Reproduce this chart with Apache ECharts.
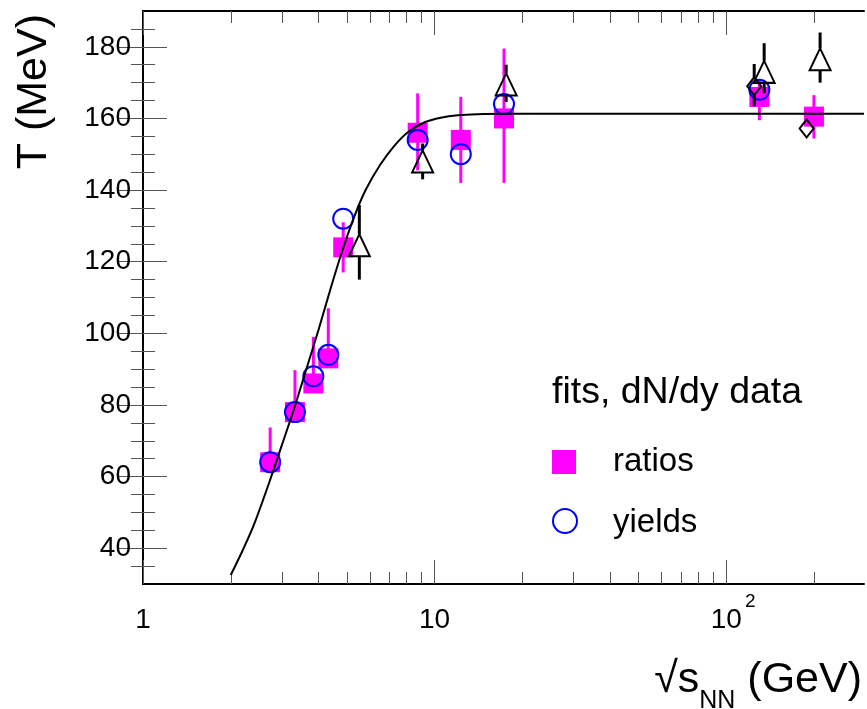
<!DOCTYPE html>
<html>
<head>
<meta charset="utf-8">
<script src="https://cdn.jsdelivr.net/npm/echarts@6/dist/echarts.min.js"></script>
<style>
  html, body { margin: 0; padding: 0; background: #fff; }
  #chart { width: 867px; height: 709px; }
</style>
</head>
<body>
<div id="chart"></div>
<script>
// thermal fits to dN/dy data: T (MeV) vs sqrt(s_NN) (GeV)
const ratioX = [2.73, 3.32, 3.84, 4.32, 4.86, 8.75, 12.3, 17.3, 130, 200];
const ratioT = [64, 78, 86, 93, 124, 156, 154, 160, 166, 160.5];
const ratioLo = [62, 76, 84, 91, 117, 145.5, 142, 142, 159.5, 154.4];
const ratioHi = [73.7, 89.7, 99, 107, 131, 167, 166, 179.5, 171, 166.5];

const yieldX = [2.73, 3.32, 3.84, 4.32, 4.86, 8.75, 12.3, 17.3, 130];
const yieldT = [64, 78, 88, 94, 132, 154, 150, 164, 168];

const triX = [5.52, 9.1, 17.6, 135, 210];
const triT = [124.6, 148, 169.5, 173, 176.5];
const triLo = [115, 143, 164.6, 167, 170];
const triHi = [135.8, 153, 175, 181, 184];

const diaX = [124.8, 188.8];
const diaT = [169, 157.2];
const diaLo = [163.4, 157.2];
const diaHi = [175.2, 157.2];

// parametrised T(sqrt s) curve
const fitX = [2.0, 2.2, 2.4, 2.7, 3.0, 3.3, 3.6, 4.0, 4.4, 4.8, 5.3, 5.8, 6.5, 7.3, 8.2, 9.3, 10.5, 12, 14, 18, 297];
const fitT = [32.5, 39.5, 46.5, 58, 69, 79, 89, 101, 112.5, 122.5, 132.5, 140, 147, 152.5, 156.5, 159, 160.2, 160.9, 161.2, 161.3, 161.3];

const xMin = 1;
const xMax = 297;
const yMin = 30;
const yMax = 190;
const xMajor = [1, 10, 100];
const xMinor = [2, 3, 4, 5, 6, 7, 8, 9, 20, 30, 40, 50, 60, 70, 80, 90, 200];
const yMajor = [40, 60, 80, 100, 120, 140, 160, 180];
const yMinor = [35, 45, 50, 55, 65, 70, 75, 85, 90, 95, 105, 110, 115, 125, 130, 135,
  145, 150, 155, 165, 170, 175, 185];

const FONT = "Liberation Sans, Arial, sans-serif";
const TICK_COLOR = "#555";
const logMax = Math.log10(xMax);

const chart = echarts.init(document.getElementById("chart"), null, { renderer: "canvas" });

function frameXAxis(position) {
  return {
    type: "log",
    position: position,
    min: xMin,
    max: xMax,
    axisLine: { show: true, lineStyle: { color: "#000", width: 2 } },
    axisTick: { show: false },
    axisLabel: { show: false },
    splitLine: { show: false },
    minorTick: { show: false },
  };
}

function tickXAxis(position, values, length, withLabels) {
  return {
    type: "value",
    position: position,
    min: 0,
    max: logMax,
    axisLine: { show: false },
    axisTick: {
      show: true,
      inside: true,
      length: length,
      customValues: values.map((v) => Math.log10(v)),
      lineStyle: { color: TICK_COLOR, width: 1 },
    },
    axisLabel: withLabels
      ? {
          show: true,
          customValues: values.map((v) => Math.log10(v)),
          margin: 8,
          color: "#000",
          fontFamily: FONT,
          formatter: (v) => {
            const p = Math.round(v);
            if (p === 0) return "{a|1}";
            if (p === 1) return "{a|10}";
            return "{b|10}{s|" + p + "}";
          },
          rich: {
            a: { fontSize: 28, fontFamily: FONT, lineHeight: 28, padding: [14, 0, 0, 0], verticalAlign: "top" },
            b: { fontSize: 28, fontFamily: FONT, lineHeight: 28, padding: [14, 0, 0, 14], verticalAlign: "top" },
            s: { fontSize: 19, fontFamily: FONT, lineHeight: 19, padding: [0, 0, 0, 3], verticalAlign: "top" },
          },
        }
      : { show: false },
    splitLine: { show: false },
  };
}

function tickYAxis(position, values, length, withLabels, withLine) {
  return {
    type: "value",
    position: position,
    min: yMin,
    max: yMax,
    axisLine: { show: withLine, lineStyle: { color: "#000", width: 2 } },
    axisTick: {
      show: true,
      inside: true,
      length: length,
      customValues: values,
      lineStyle: { color: TICK_COLOR, width: 1 },
    },
    axisLabel: withLabels
      ? {
          show: true,
          customValues: values,
          margin: 12,
          fontSize: 28,
          fontFamily: FONT,
          color: "#000",
        }
      : { show: false },
    splitLine: { show: false },
  };
}

// vertical error bars, with a hole where an open marker sits
function errorBars(xs, ts, lo, hi, color, gap, z) {
  return {
    type: "custom",
    xAxisIndex: 0,
    yAxisIndex: 0,
    z: z,
    silent: true,
    data: xs.map((x, i) => [x, ts[i], lo[i], hi[i]]),
    encode: { x: 0, y: [1, 2, 3] },
    renderItem: (params, api) => {
      const mid = api.coord([api.value(0), api.value(1)]);
      const low = api.coord([api.value(0), api.value(2)]);
      const high = api.coord([api.value(0), api.value(3)]);
      const style = { stroke: color, lineWidth: 3 };
      const children = [];
      if (mid[1] - gap > high[1]) {
        children.push({ type: "line", shape: { x1: mid[0], y1: high[1], x2: mid[0], y2: mid[1] - gap }, style: style });
      }
      if (low[1] > mid[1] + gap) {
        children.push({ type: "line", shape: { x1: mid[0], y1: mid[1] + gap, x2: mid[0], y2: low[1] }, style: style });
      }
      return { type: "group", children: children };
    },
  };
}

const option = {
  animation: false,
  backgroundColor: "#fff",
  grid: { left: 143, top: 11, width: 721, height: 573, containLabel: false },
  xAxis: [
    frameXAxis("bottom"),
    tickXAxis("bottom", xMajor, 24, true),
    tickXAxis("bottom", xMinor, 12, false),
    frameXAxis("top"),
    tickXAxis("top", xMajor, 24, false),
    tickXAxis("top", xMinor, 12, false),
  ],
  yAxis: [
    tickYAxis("left", yMajor, 24, true, true),
    tickYAxis("left", yMinor, 12, false, false),
    tickYAxis("right", yMajor, 24, false, true),
    tickYAxis("right", yMinor, 12, false, false),
  ],
  series: [
    errorBars(ratioX, ratioT, ratioLo, ratioHi, "#ff00ff", 0, 2),
    {
      name: "ratios",
      type: "scatter",
      z: 3,
      data: ratioX.map((x, i) => [x, ratioT[i]]),
      symbol: "rect",
      symbolSize: 20,
      itemStyle: { color: "#ff00ff", opacity: 1 },
      emphasis: { disabled: true },
    },
    {
      name: "yields",
      type: "scatter",
      z: 4,
      data: yieldX.map((x, i) => [x, yieldT[i]]),
      symbol: "circle",
      symbolSize: 20,
      itemStyle: { color: "rgba(0,0,0,0)", borderColor: "#0000ff", borderWidth: 2, opacity: 1 },
      emphasis: { disabled: true },
    },
    errorBars(triX, triT, triLo, triHi, "#000", 11, 5),
    {
      type: "scatter",
      z: 5,
      data: triX.map((x, i) => [x, triT[i]]),
      symbol: "triangle",
      symbolSize: [21, 22],
      itemStyle: { color: "rgba(0,0,0,0)", borderColor: "#000", borderWidth: 2, opacity: 1 },
      emphasis: { disabled: true },
    },
    errorBars(diaX, diaT, diaLo, diaHi, "#000", 9, 5),
    {
      type: "scatter",
      z: 5,
      data: diaX.map((x, i) => [x, diaT[i]]),
      symbol: "diamond",
      symbolSize: [14, 18],
      itemStyle: { color: "rgba(0,0,0,0)", borderColor: "#000", borderWidth: 2, opacity: 1 },
      emphasis: { disabled: true },
    },
    {
      type: "line",
      z: 6,
      data: fitX.map((x, i) => [x, fitT[i]]),
      showSymbol: false,
      smooth: 0.3,
      lineStyle: { color: "#000", width: 2 },
      emphasis: { disabled: true },
    },
  ],
  graphic: [
    {
      type: "text",
      x: 34,
      y: 14,
      rotation: Math.PI / 2,
      style: { text: "T (MeV)", fontSize: 43, fontFamily: FONT, fill: "#000", align: "right", verticalAlign: "middle" },
    },
    {
      type: "text",
      x: 862,
      y: 659,
      style: {
        text: "{r|\u221As}{sub|NN}{r| (GeV)}",
        align: "right",
        verticalAlign: "top",
        fill: "#000",
        rich: {
          r: { fontSize: 43, fontFamily: FONT, lineHeight: 48, verticalAlign: "top", fill: "#000" },
          sub: { fontSize: 25, fontFamily: FONT, lineHeight: 25, padding: [30, 0, 0, 0], verticalAlign: "top", fill: "#000" },
        },
      },
    },
    {
      type: "text",
      x: 552,
      y: 393,
      style: { text: "fits, dN/dy data", fontSize: 37.5, fontFamily: FONT, fill: "#000", align: "left", verticalAlign: "middle" },
    },
    {
      type: "rect",
      shape: { x: 552, y: 450, width: 24, height: 24 },
      style: { fill: "#ff00ff" },
    },
    {
      type: "text",
      x: 613,
      y: 462,
      style: { text: "ratios", fontSize: 33, fontFamily: FONT, fill: "#000", align: "left", verticalAlign: "middle" },
    },
    {
      type: "circle",
      shape: { cx: 565, cy: 521, r: 12 },
      style: { fill: "none", stroke: "#0000ff", lineWidth: 2 },
    },
    {
      type: "text",
      x: 613,
      y: 523,
      style: { text: "yields", fontSize: 33, fontFamily: FONT, fill: "#000", align: "left", verticalAlign: "middle" },
    },
  ],
};

chart.setOption(option);
</script>
</body>
</html>
